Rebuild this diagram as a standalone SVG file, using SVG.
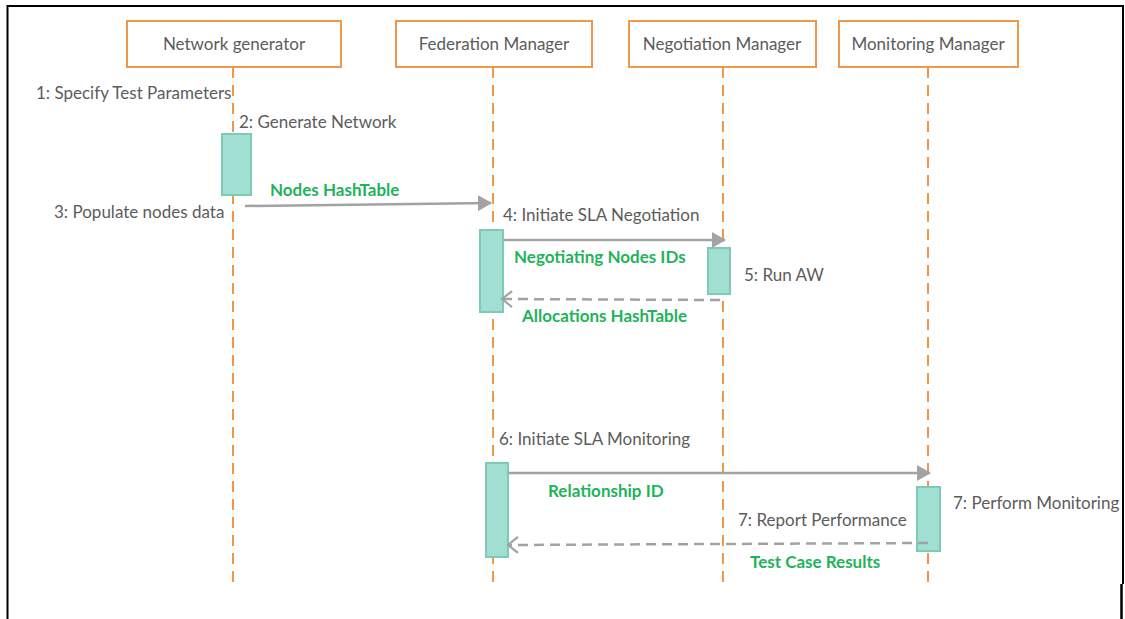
<svg xmlns="http://www.w3.org/2000/svg" width="1125" height="619" viewBox="0 0 1125 619">
<defs>
<style>
.box{fill:#fff;stroke:#f0984a;stroke-width:2}
.life{stroke:#f0984a;stroke-width:2;stroke-dasharray:11 7;fill:none}
.act{fill:#a0dfd1;stroke:#7ccbb6;stroke-width:2}
.msg{stroke:#a3a3a3;stroke-width:2.5;fill:none}
.ret{stroke:#a3a3a3;stroke-width:2.5;fill:none;stroke-dasharray:10 6}
.t{font-family:Lato,"Open Sans",sans-serif;font-size:17px;fill:#5c5c5c}
.g{font-family:Lato,"Open Sans",sans-serif;font-size:17px;font-weight:bold;fill:#1fb35a}
</style>
<marker id="fill" markerWidth="14" markerHeight="16" refX="13" refY="8" orient="auto" markerUnits="userSpaceOnUse" viewBox="0 0 14 16">
<path d="M0,0 L14,8 L0,16 Z" fill="#a3a3a3"/>
</marker>
<marker id="open" markerWidth="14" markerHeight="18" refX="12" refY="9" orient="auto" markerUnits="userSpaceOnUse" viewBox="0 0 14 18">
<path d="M2,1 L12,9 L2,17" fill="none" stroke="#a3a3a3" stroke-width="2.2"/>
</marker>
</defs>
<rect width="1125" height="619" fill="#fff"/>
<path d="M7.5,619 L7.5,6 L1123,6 L1123,584" fill="none" stroke="#000" stroke-width="2"/>
<line x1="1121.5" y1="584" x2="1121.5" y2="619" stroke="#000" stroke-width="2.5"/>

<g id="network-generator">
<line class="life" x1="233" y1="67" x2="233" y2="586"/>
<rect class="box" x="127" y="21" width="214" height="46"/>
<text class="t" x="234" y="50" text-anchor="middle">Network generator</text>
</g>
<g id="federation-manager">
<line class="life" x1="493" y1="67" x2="493" y2="586"/>
<rect class="box" x="396" y="21" width="196" height="46"/>
<text class="t" x="494" y="50" text-anchor="middle">Federation Manager</text>
</g>
<g id="negotiation-manager">
<line class="life" x1="723" y1="67" x2="723" y2="586"/>
<rect class="box" x="629" y="21" width="187" height="46"/>
<text class="t" x="722" y="50" text-anchor="middle">Negotiation Manager</text>
</g>
<g id="monitoring-manager">
<line class="life" x1="928" y1="67" x2="928" y2="586"/>
<rect class="box" x="839" y="21" width="179" height="46"/>
<text class="t" x="928" y="50" text-anchor="middle">Monitoring Manager</text>
</g>

<g id="activations">
<rect class="act" x="222" y="134" width="29" height="61"/>
<rect class="act" x="480" y="230" width="23" height="82"/>
<rect class="act" x="708" y="248" width="22" height="46"/>
<rect class="act" x="486" y="463" width="22" height="94"/>
<rect class="act" x="917" y="487" width="23" height="64"/>
</g>

<g id="connectors">
<line class="msg" x1="245" y1="206" x2="491" y2="203" marker-end="url(#fill)"/>
<line class="msg" x1="503" y1="240" x2="725" y2="240" marker-end="url(#fill)"/>
<line class="ret" x1="720" y1="300" x2="502" y2="299" marker-end="url(#open)"/>
<line class="msg" x1="508" y1="473" x2="930" y2="473" marker-end="url(#fill)"/>
<line class="ret" x1="928" y1="543" x2="508" y2="545" marker-end="url(#open)"/>
</g>

<g id="labels">
<text class="t" x="36" y="99">1: Specify Test Parameters</text>
<text class="t" x="239" y="128">2: Generate Network</text>
<text class="t" x="54" y="218">3: Populate nodes data</text>
<text class="t" x="503" y="221">4: Initiate SLA Negotiation</text>
<text class="t" x="744" y="281">5: Run AW</text>
<text class="t" x="499" y="445">6: Initiate SLA Monitoring</text>
<text class="t" x="738" y="526">7: Report Performance</text>
<text class="t" x="953" y="509">7: Perform Monitoring</text>
<text class="g" x="270" y="196">Nodes HashTable</text>
<text class="g" x="514" y="263">Negotiating Nodes IDs</text>
<text class="g" x="522" y="322">Allocations HashTable</text>
<text class="g" x="548" y="497">Relationship ID</text>
<text class="g" x="750" y="568">Test Case Results</text>
</g>
</svg>
